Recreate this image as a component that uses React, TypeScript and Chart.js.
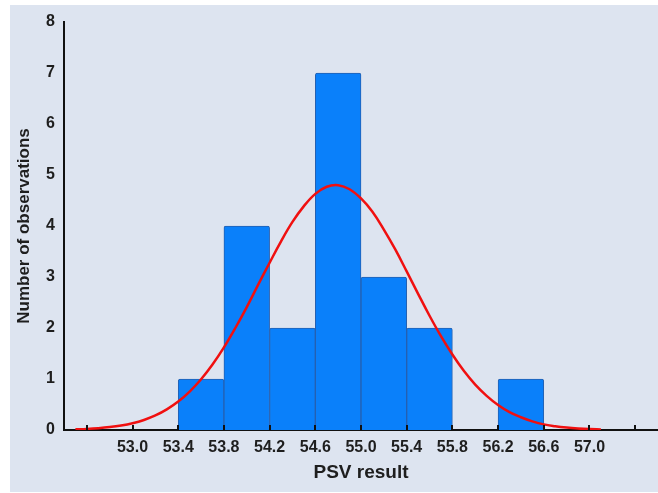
import React, { useEffect, useRef } from "react";
import { Chart, registerables } from "chart.js";

Chart.register(...registerables);

// Histogram bins (centres) and counts
const binCenters = [53.6, 54.0, 54.4, 54.8, 55.2, 55.6, 56.4];
const binCounts = [1, 4, 2, 7, 3, 2, 1];

// Fitted normal curve
const curveX = [52.5, 52.6, 52.7, 52.8, 52.9, 53.0, 53.1, 53.2, 53.3, 53.4, 53.5, 53.6, 53.7, 53.8, 53.9, 54.0, 54.1, 54.2, 54.3, 54.4, 54.5, 54.6, 54.7, 54.8, 54.9, 55.0, 55.1, 55.2, 55.3, 55.4, 55.5, 55.6, 55.7, 55.8, 55.9, 56.0, 56.1, 56.2, 56.3, 56.4, 56.5, 56.6, 56.7, 56.8, 56.9, 57.0, 57.1];
const curveY = [0.013, 0.022, 0.036, 0.057, 0.088, 0.133, 0.197, 0.285, 0.404, 0.557, 0.753, 0.995, 1.284, 1.62, 2.0, 2.41, 2.85, 3.28, 3.7, 4.08, 4.39, 4.63, 4.77, 4.8, 4.72, 4.54, 4.28, 3.93, 3.54, 3.11, 2.67, 2.24, 1.84, 1.48, 1.16, 0.89, 0.67, 0.49, 0.35, 0.25, 0.17, 0.11, 0.074, 0.048, 0.03, 0.018, 0.011];

// Axis ticks
const xTickValues = [52.6, 53.0, 53.4, 53.8, 54.2, 54.6, 55.0, 55.4, 55.8, 56.2, 56.6, 57.0, 57.4];
const xLabeledTicks = [53.0, 53.4, 53.8, 54.2, 54.6, 55.0, 55.4, 55.8, 56.2, 56.6, 57.0];
const xMin = 52.4;
const xMax = 57.6;
const yTicks = [0, 1, 2, 3, 4, 5, 6, 7, 8];

const FONT = "'Liberation Sans', Arial, Helvetica, sans-serif";
const TEXT = "#1e1e1e";

const innerTicks = {
  id: "innerTicks",
  afterDatasetsDraw(chart: any) {
    const xs = chart.scales.x;
    const ctx = chart.ctx;
    const yBase = chart.chartArea.bottom;
    ctx.save();
    ctx.strokeStyle = "#111";
    ctx.lineWidth = 2;
    xTickValues.forEach((v) => {
      const px = Math.round(xs.getPixelForValue(v));
      ctx.beginPath();
      ctx.moveTo(px, yBase);
      ctx.lineTo(px, yBase - 5);
      ctx.stroke();
    });
    ctx.restore();
  },
};

export default function App() {
  const ref = useRef<HTMLCanvasElement | null>(null);

  useEffect(() => {
    document.body.style.margin = "0";
    if (!ref.current) return;
    const chart = new Chart(ref.current, {
      type: "bar",
      data: {
        datasets: [
          {
            type: "line",
            data: curveX.map((x, i) => ({ x, y: curveY[i] })),
            borderColor: "#f01010",
            borderWidth: 2.5,
            pointRadius: 0,
            tension: 0.4,
            fill: false,
            order: 0,
          } as any,
          {
            type: "bar",
            data: binCenters.map((x, i) => ({ x, y: binCounts[i] })),
            backgroundColor: "#0a80fa",
            borderColor: "#2560b0",
            borderWidth: 1,
            borderRadius: 2,
            borderSkipped: "bottom",
            barPercentage: 1,
            categoryPercentage: 1,
            order: 1,
          } as any,
        ],
      },
      plugins: [innerTicks],
      options: {
        responsive: false,
        animation: false,
        layout: { padding: { left: 0, top: 22, right: 0, bottom: 0 } },
        plugins: { legend: { display: false }, tooltip: { enabled: false } },
        scales: {
          x: {
            type: "linear",
            min: xMin,
            max: xMax,
            offset: false,
            grid: { display: false, drawTicks: false, offset: false },
            border: { display: true, color: "#111", width: 2 },
            afterBuildTicks: (scale: any) => {
              scale.ticks = xTickValues.map((v) => ({ value: v }));
            },
            afterFit: (scale: any) => {
              scale.height = 63;
            },
            ticks: {
              autoSkip: false,
              maxRotation: 0,
              padding: 8,
              color: TEXT,
              font: { family: FONT, size: 16, weight: "bold" },
              callback: (v: any) => {
                const n = Number(v);
                return xLabeledTicks.some((t) => Math.abs(t - n) < 1e-6) ? n.toFixed(1) : "";
              },
            },
            title: {
              display: true,
              text: "PSV result",
              color: TEXT,
              font: { family: FONT, size: 19, weight: "bold" },
              padding: { top: 0, bottom: 9 },
            },
          },
          y: {
            min: 0,
            max: 8,
            afterBuildTicks: (scale: any) => {
              scale.ticks = yTicks.map((v) => ({ value: v }));
            },
            afterFit: (scale: any) => {
              scale.width = 64;
            },
            grid: { display: false, drawTicks: false },
            border: { display: true, color: "#111", width: 2 },
            ticks: {
              padding: 9,
              color: TEXT,
              font: { family: FONT, size: 16, weight: "bold" },
            },
            title: {
              display: true,
              text: "Number of observations",
              color: TEXT,
              font: { family: FONT, size: 17, weight: "bold" },
              padding: { top: 14, bottom: 0 },
            },
          },
        },
      } as any,
    });
    return () => chart.destroy();
  }, []);

  return (
    <div style={{ position: "relative", width: 658, height: 493, background: "#ffffff" }}>
      <div style={{ position: "absolute", left: 10, top: 5, right: 0, bottom: 1, background: "#dde4f0" }} />
      <canvas ref={ref} width={658} height={493} style={{ position: "absolute", left: 0, top: 0 }} />
    </div>
  );
}
